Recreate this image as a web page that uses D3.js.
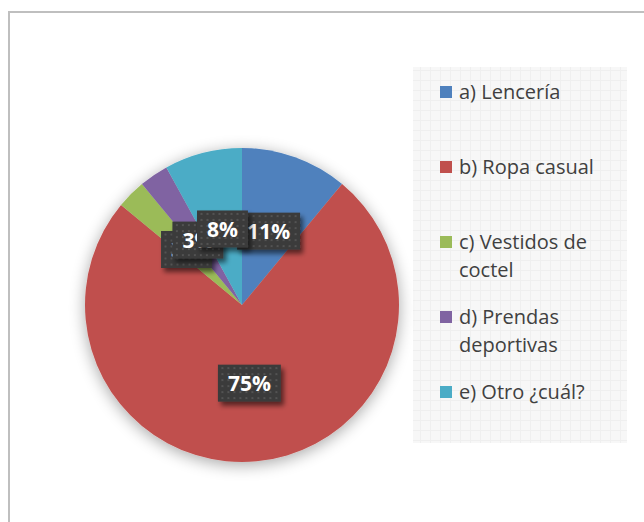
<!DOCTYPE html>
<html>
<head>
<meta charset="utf-8">
<script src="https://cdn.jsdelivr.net/npm/d3@7"></script>
<style>
  body { margin: 0; background: #fff; }
  svg { display: block; }
</style>
</head>
<body>
<div id="chart"></div>
<script>
// data
var categories = ["a) Lencería", "b) Ropa casual", "c) Vestidos de coctel", "d) Prendas deportivas", "e) Otro ¿cuál?"];
var legendLines = [["a) Lencería"], ["b) Ropa casual"], ["c) Vestidos de", "coctel"], ["d) Prendas", "deportivas"], ["e) Otro ¿cuál?"]];
var values = [11, 75, 3, 3, 8];
var colors = ["#4f81bd", "#c0504d", "#9bbb59", "#8064a2", "#4bacc6"];

var svgWidth = 644;
var svgHeight = 522;
var cx = 242, cy = 305, radius = 157;

var svg = d3.select("#chart")
  .append("svg")
  .attr("width", svgWidth)
  .attr("height", svgHeight);

var defs = svg.append("defs");

// soft shadow round the pie
var pieShadow = defs.append("filter").attr("id", "pieShadow")
  .attr("x", "-20%").attr("y", "-20%").attr("width", "140%").attr("height", "140%");
pieShadow.append("feGaussianBlur").attr("in", "SourceAlpha").attr("stdDeviation", 8);
pieShadow.append("feOffset").attr("dx", 0).attr("dy", 3).attr("result", "off");
pieShadow.append("feComponentTransfer").append("feFuncA").attr("type", "linear").attr("slope", 0.35);
var m1 = pieShadow.append("feMerge");
m1.append("feMergeNode");
m1.append("feMergeNode").attr("in", "SourceGraphic");

// shadow for the label boxes
var boxShadow = defs.append("filter").attr("id", "boxShadow")
  .attr("x", "-30%").attr("y", "-30%").attr("width", "160%").attr("height", "170%");
boxShadow.append("feGaussianBlur").attr("in", "SourceAlpha").attr("stdDeviation", 2.5);
boxShadow.append("feOffset").attr("dx", 3).attr("dy", 4);
boxShadow.append("feComponentTransfer").append("feFuncA").attr("type", "linear").attr("slope", 0.55);
var m2 = boxShadow.append("feMerge");
m2.append("feMergeNode");
m2.append("feMergeNode").attr("in", "SourceGraphic");

// dotted dark fill for the labels
var dots = defs.append("pattern").attr("id", "dots")
  .attr("width", 6).attr("height", 6).attr("patternUnits", "userSpaceOnUse");
dots.append("rect").attr("width", 6).attr("height", 6).attr("fill", "#3b3b3b");
dots.append("rect").attr("x", 2).attr("y", 2).attr("width", 2).attr("height", 2).attr("fill", "#525252");

// faint grid behind the legend
var grid = defs.append("pattern").attr("id", "grid")
  .attr("width", 10).attr("height", 10).attr("patternUnits", "userSpaceOnUse");
grid.append("rect").attr("width", 10).attr("height", 10).attr("fill", "#f7f7f7");
grid.append("path").attr("d", "M0 0.5H10M0.5 0V10").attr("stroke", "#efefef").attr("stroke-width", 1);

// chart frame
svg.append("rect")
  .attr("x", 9).attr("y", 12)
  .attr("width", 700).attr("height", 600)
  .attr("fill", "none")
  .attr("stroke", "#bfbfbf")
  .attr("stroke-width", 2);

// legend background
svg.append("rect")
  .attr("x", 413).attr("y", 67)
  .attr("width", 214).attr("height", 376)
  .attr("fill", "url(#grid)");

var pie = d3.pie().sort(null).value(d => d);
var arcs = pie(values);
var arc = d3.arc().innerRadius(0).outerRadius(radius);

var pieGroup = svg.append("g")
  .attr("transform", `translate(${cx}, ${cy})`);

pieGroup.append("g")
  .attr("filter", "url(#pieShadow)")
  .selectAll("path")
  .data(arcs)
  .enter()
  .append("path")
  .attr("d", arc)
  .attr("fill", (d, i) => colors[i]);

// data labels (they overlap in the original too)
var total = d3.sum(values);
var labels = pieGroup.selectAll(".lbl")
  .data(arcs)
  .enter()
  .append("g")
  .attr("class", "lbl")
  .attr("transform", d => `translate(${arc.centroid(d)})`);

labels.each(function(d) {
  var g = d3.select(this);
  var box = g.append("rect").attr("fill", "url(#dots)").attr("filter", "url(#boxShadow)");
  var t = g.append("text")
    .text(Math.round(d.value / total * 100) + "%")
    .attr("text-anchor", "middle")
    .attr("dy", "0.36em")
    .attr("fill", "#fff")
    .attr("font-family", "'Open Sans', sans-serif")
    .attr("font-weight", "bold")
    .attr("font-size", "21px");
  var w = t.node().getComputedTextLength() + 20;
  var h = 37;
  box.attr("x", -w / 2).attr("y", -h / 2).attr("width", w).attr("height", h);
});

// legend
var legend = svg.append("g");
var rowY = d3.scalePoint().domain(categories).range([92, 392]);

categories.forEach(function(c, i) {
  var y = rowY(c);
  legend.append("rect")
    .attr("x", 440).attr("y", y - 6)
    .attr("width", 12).attr("height", 12)
    .attr("fill", colors[i]);
  legendLines[i].forEach(function(line, j) {
    legend.append("text")
      .attr("x", 459)
      .attr("y", y + j * 28)
      .attr("dy", "0.35em")
      .attr("fill", "#404040")
      .attr("font-family", "'Open Sans', sans-serif")
      .attr("font-size", "20px")
      .text(line);
  });
});
</script>
</body>
</html>
